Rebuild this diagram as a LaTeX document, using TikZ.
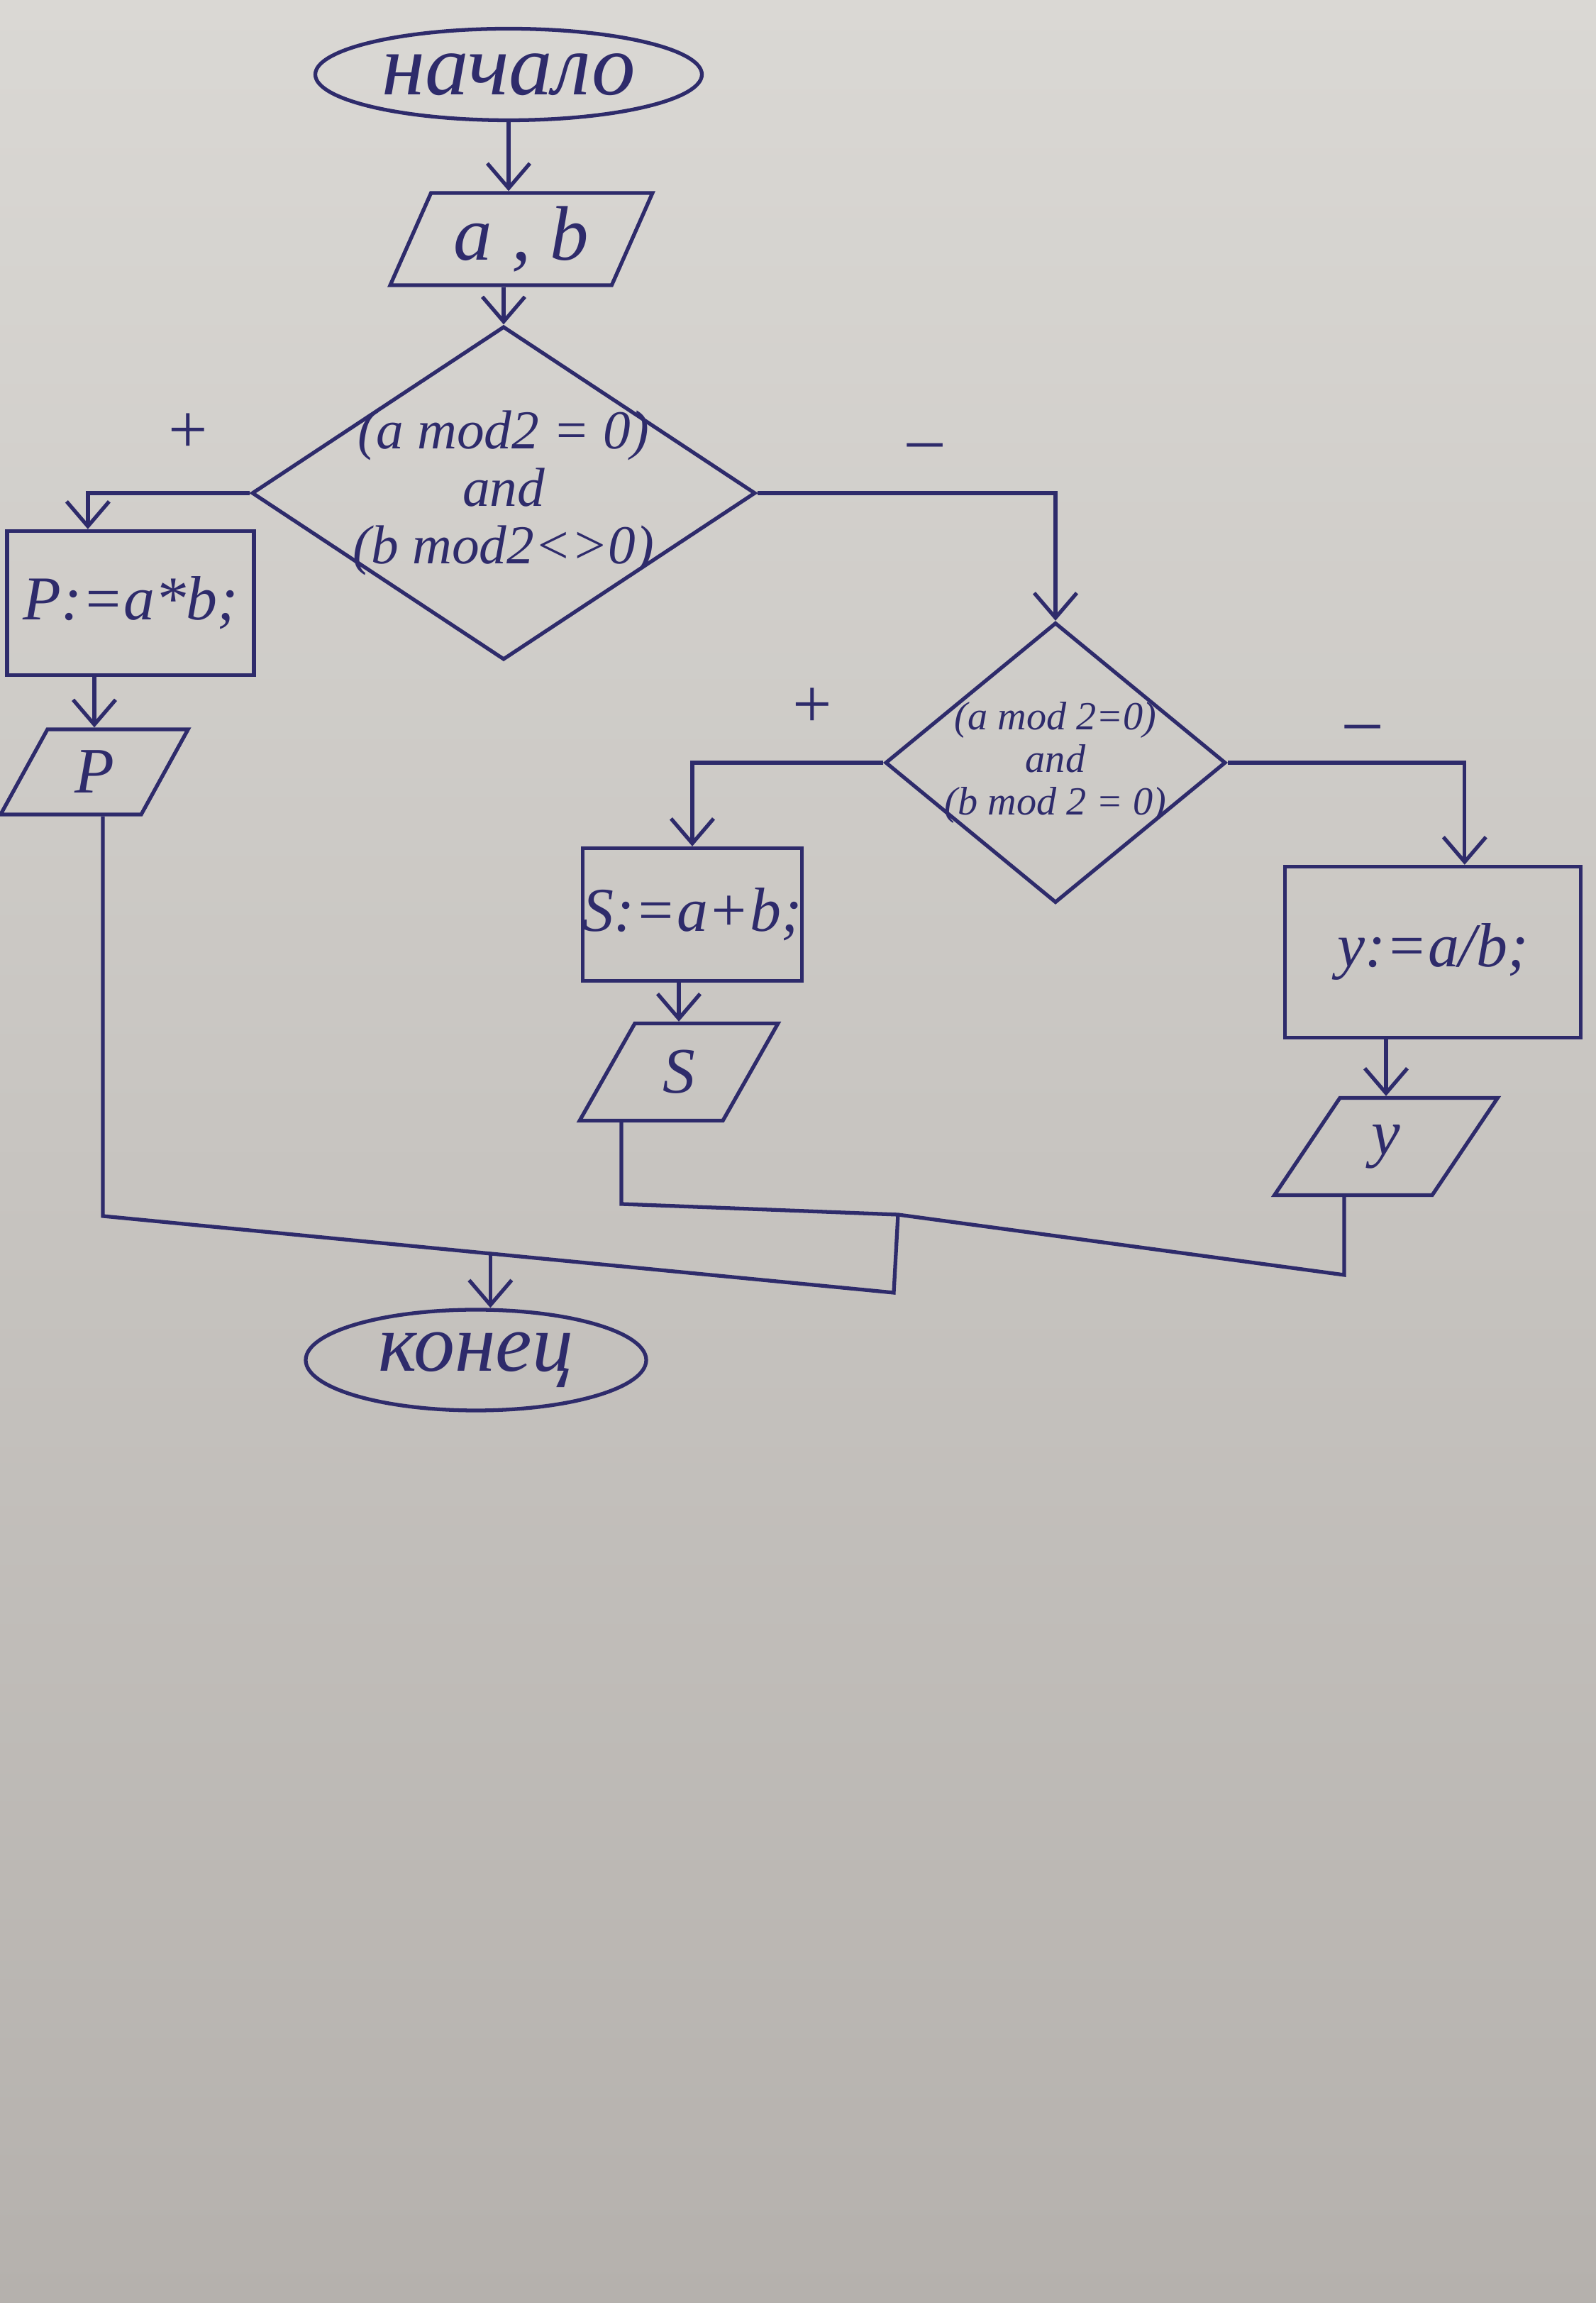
\documentclass[tikz,border=0pt]{standalone}
\usepackage{fontspec}
\setmainfont{Liberation Serif}
\usepackage{xcolor}
\usepackage{tikz}
\usetikzlibrary{shapes.geometric,arrows.meta}
\definecolor{FCInk}{HTML}{2E2B6B}
\definecolor{FCPaperTop}{HTML}{DAD8D4}
\definecolor{FCPaperBottom}{HTML}{B5B1AD}

\begin{document}
\begin{tikzpicture}[x=1cm,y=1cm,
  every node/.style={text=FCInk},
  ink/.style={draw=FCInk,line width=1.5pt},
  arr/.style={draw=FCInk,line width=1.5pt,-{Straight Barb[length=3.5mm,width=6mm]}},
  term/.style={ink,ellipse,inner sep=0pt},
  proc/.style={ink,rectangle,inner sep=0pt,font=\fontsize{25}{30}\selectfont\itshape},
  io/.style={ink,trapezium,trapezium left angle=65,trapezium right angle=115,trapezium stretches=true,inner sep=0pt,font=\fontsize{26}{30}\selectfont\itshape},
  cond/.style={ink,diamond,align=center},
  sign/.style={font=\fontsize{28}{30}\selectfont}]
\path[use as bounding box] (0,0) rectangle (22.50,32.46);
\shade[top color=FCPaperTop,bottom color=FCPaperBottom] (0,0) rectangle (22.50,32.46);
\node[term,minimum width=5.45cm,minimum height=1.29cm,font=\fontsize{35}{40}\selectfont\itshape] (start) at (7.17,31.41) {начало};
\node[io,minimum width=3.73cm,minimum height=1.30cm,font=\fontsize{31}{36}\selectfont\itshape] (ab) at (7.35,29.09) {a , b};
\node[cond,shape aspect=1.51,inner sep=-0.3cm,minimum width=7.10cm,minimum height=4.70cm,font=\fontsize{22}{23}\selectfont\itshape] (c1) at (7.10,25.51) {(a mod2 = 0)\\and\\(b mod2<>0)};
\node[sign] (plus1) at (2.65,26.35) {+};
\node[sign] (minus1) at (13.04,26.08) {–};
\node[proc,minimum width=3.48cm,minimum height=2.03cm] (pcalc) at (1.84,23.96) {P:=a*b;};
\node[io,minimum width=2.65cm,minimum height=1.20cm] (pout) at (1.33,21.58) {P};
\node[cond,shape aspect=1.22,inner sep=-0.35cm,minimum width=4.80cm,minimum height=3.95cm,font=\fontsize{16}{17}\selectfont\itshape] (c2) at (14.88,21.71) {(a mod 2=0)\\and\\(b mod 2 = 0)};
\node[sign] (plus2) at (11.45,22.48) {+};
\node[sign] (minus2) at (19.21,22.11) {–};
\node[proc,minimum width=3.04cm,minimum height=1.87cm] (scalc) at (9.76,19.57) {S:=a+b;};
\node[io,minimum width=2.80cm,minimum height=1.37cm] (sout) at (9.57,17.35) {S};
\node[proc,minimum width=4.17cm,minimum height=2.41cm] (ycalc) at (20.20,19.04) {y:=a/b;};
\node[io,minimum width=3.15cm,minimum height=1.37cm] (yout) at (19.54,16.30) {y};
\node[term,minimum width=4.80cm,minimum height=1.42cm,font=\fontsize{33}{38}\selectfont\itshape] (stop) at (6.71,13.29) {конец};
\coordinate (jp) at (1.45,15.32);
\coordinate (jb) at (12.60,14.24);
\coordinate (jt) at (12.66,15.34);
\coordinate (js) at (8.76,15.49);
\coordinate (jy) at (18.95,14.49);
\draw[arr] (start.south) -- (start.south |- ab.north);
\draw[arr] (ab.south -| c1.north) -- (c1.north);
\draw[arr] (c1.west) -| (pcalc.120);
\draw[arr] (pcalc.south -| pout.north) -- (pout.north);
\draw[arr] (c1.east) -| (c2.north);
\draw[arr] (c2.west) -| (scalc.north);
\draw[arr] (scalc.south -| sout.north) -- (sout.north);
\draw[arr] (c2.east) -| (ycalc.70);
\draw[arr] (ycalc.south -| yout.north) -- (yout.north);
\draw[ink] (pout.south -| jp) -- (jp) -- coordinate[pos=0.49] (jk) (jb) -- (jt);
\draw[ink] (sout.south -| js) -- (js) -- (jt) -- (jy) -- (yout.south -| jy);
\draw[arr] (jk) -- (jk |- stop.north);
\end{tikzpicture}
\end{document}
